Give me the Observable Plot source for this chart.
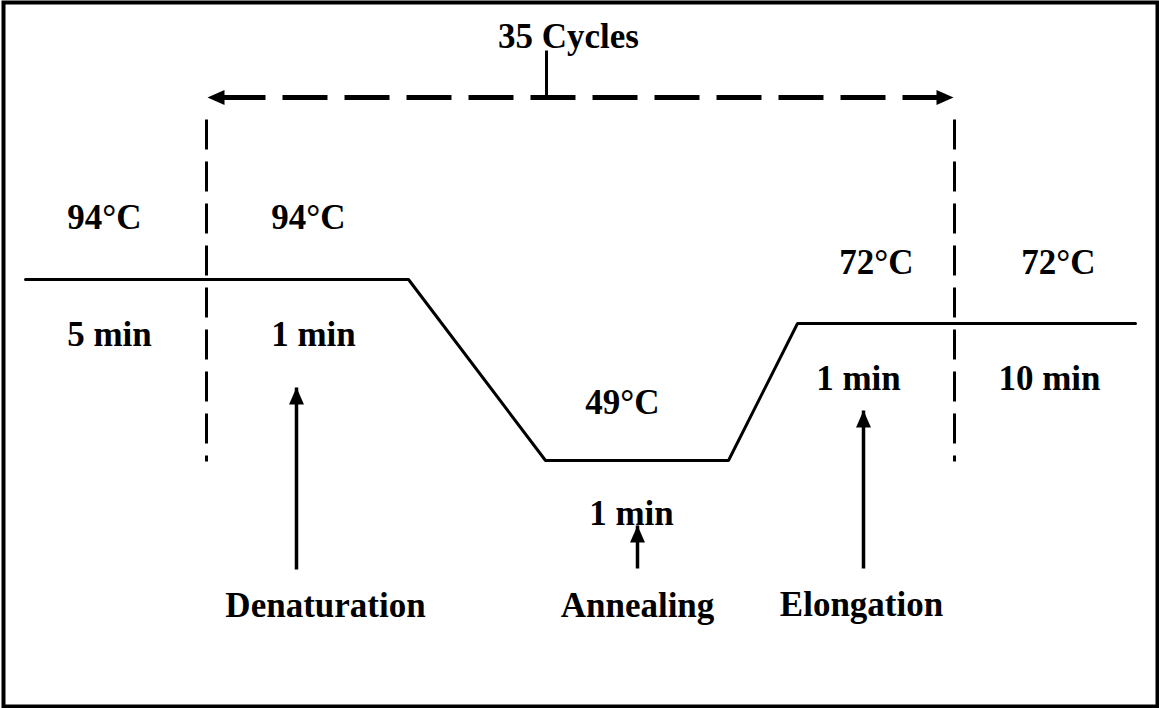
<!DOCTYPE html>
<html>
<head>
<meta charset="utf-8">
<script src="https://cdn.jsdelivr.net/npm/d3@7"></script>
<script src="https://cdn.jsdelivr.net/npm/@observablehq/plot@0.6"></script>
<style>
  html, body { margin: 0; padding: 0; background: #fff; overflow: hidden; }
  #chart svg { display: block; }
</style>
</head>
<body>
<div id="chart"></div>
<script>
// Schematic units (diagram space, x to the right, y downward)
// Temperature profile
const profileX = [25, 408, 545, 728, 797, 1135];
const profileY = [279, 279, 460, 460, 323, 323];

// Labels
const labelText = ["35 Cycles", "94°C", "94°C", "5 min", "1 min", "72°C", "72°C", "1 min", "10 min", "49°C", "1 min", "Denaturation", "Annealing", "Elongation"];
const labelX = [568, 104, 308, 109, 313, 876, 1058, 858, 1049, 622, 631, 325, 637, 861];
const labelY = [36, 217, 217, 334, 334, 262, 262, 378, 378, 402, 513, 605, 605, 604];

// Step arrows (Denaturation, Annealing, Elongation)
const stepArrowX = [296, 637, 863];
const stepArrowTip = [387, 525, 410];
const stepArrowBase = [569, 568, 568];

// Cycle bracket
const cycleBoundX = [206, 954];
const cycleBoundTop = [119, 119];
const cycleBoundBottom = [461, 461];
const cycleSpanX = [207, 953];
const cycleSpanY = 97;
const cycleTickX = 546;
const cycleTickTop = 50;

const W = 1159, H = 708;

const profile = profileX.map((x, i) => ({x, y: profileY[i]}));
const labels = labelText.map((t, i) => ({t, x: labelX[i], y: labelY[i]}));
const stepArrows = stepArrowX.map((x, i) => ({x, tip: stepArrowTip[i], base: stepArrowBase[i]}));
const bounds = cycleBoundX.map((x, i) => ({x, y1: cycleBoundTop[i], y2: cycleBoundBottom[i]}));
const heads = [
  ...stepArrows.map(d => ({x: d.x, y: d.tip, a: 0})),
  {x: cycleSpanX[0], y: cycleSpanY, a: -90},
  {x: cycleSpanX[1], y: cycleSpanY, a: 90}
];

// filled arrowhead symbol, tip at origin pointing up
const arrowHead = {
  draw(context) {
    context.moveTo(0, 0);
    context.lineTo(-7.5, 17);
    context.lineTo(7.5, 17);
    context.closePath();
  }
};

const font = "'Liberation Serif', 'Times New Roman', serif";

const chart = Plot.plot({
  width: W,
  height: H,
  margin: 0,
  style: {background: "#fff", fontFamily: font},
  x: {domain: [0, W], range: [0, W], axis: null},
  y: {domain: [0, H], range: [0, H], axis: null},
  marks: [
    Plot.frame({stroke: "#000", strokeWidth: 4, insetTop: 2, insetLeft: 3, insetRight: 2, insetBottom: 2}),
    // temperature profile
    Plot.line(profile, {x: "x", y: "y", stroke: "#000", strokeWidth: 3, strokeLinejoin: "miter"}),
    // cycle boundaries (dashed)
    Plot.link(bounds, {x1: "x", x2: "x", y1: "y1", y2: "y2", stroke: "#000", strokeWidth: 3, strokeDasharray: "30,12"}),
    // cycle span (dashed, double-headed)
    Plot.link([{x1: cycleSpanX[0] + 13, x2: cycleSpanX[1], y: cycleSpanY}], {x1: "x1", x2: "x2", y1: "y", y2: "y", stroke: "#000", strokeWidth: 5, strokeDasharray: "45,17"}),
    Plot.link([{x: cycleTickX, y1: cycleTickTop, y2: cycleSpanY}], {x1: "x", x2: "x", y1: "y1", y2: "y2", stroke: "#000", strokeWidth: 3}),
    // step arrows
    Plot.link(stepArrows, {x1: "x", x2: "x", y1: "base", y2: "tip", stroke: "#000", strokeWidth: 3.5}),
    Plot.dot(heads, {x: "x", y: "y", rotate: "a", symbol: arrowHead, r: 6, fill: "#000", stroke: "none"}),
    // labels
    Plot.text(labels, {x: "x", y: "y", text: "t", fontSize: 35, fontWeight: "bold", fill: "#000", textAnchor: "middle", fontFamily: font})
  ]
});

document.getElementById("chart").appendChild(chart);
</script>
</body>
</html>
